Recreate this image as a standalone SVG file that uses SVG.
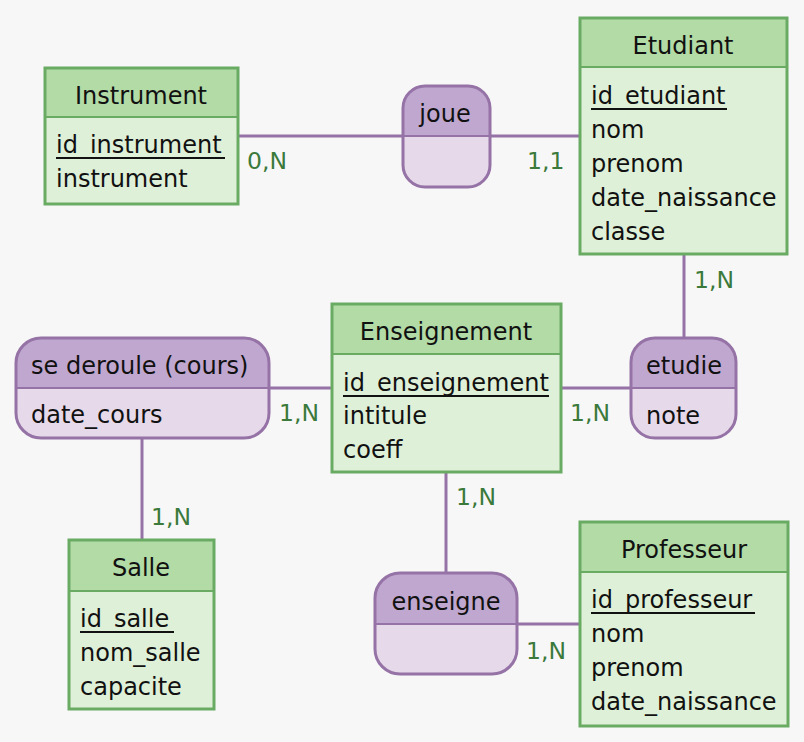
<svg xmlns="http://www.w3.org/2000/svg" width="804" height="742" viewBox="0 0 804 742">
<style>
text{font-family:"DejaVu Sans","Verdana",sans-serif;font-size:24px;fill:#111}
.h{text-anchor:middle}
.card{font-size:23.5px;fill:#3b7a3b}
.eb{fill:#dff0d8}
.eh{fill:#b2dba6}
.es{fill:none;stroke:#6aab64;stroke-width:3}
.rb{fill:#e6d9e9}
.rh{fill:#c0a7cf}
.rs{fill:none;stroke:#9673a6;stroke-width:3}
.ed{stroke:#6aab64;stroke-width:2}
.rd{stroke:#9673a6;stroke-width:2}
.ul{stroke:#111;stroke-width:1.8}
.ln{stroke:#9673a6;stroke-width:3;fill:none}
</style>
<rect width="804" height="742" fill="#f7f7f7"/>
<g id="connectors">
<line class="ln" x1="238" y1="136" x2="403" y2="136"/>
<line class="ln" x1="490" y1="136" x2="580" y2="136"/>
<line class="ln" x1="684" y1="254" x2="684" y2="338"/>
<line class="ln" x1="561" y1="388" x2="631" y2="388"/>
<line class="ln" x1="269" y1="388" x2="332" y2="388"/>
<line class="ln" x1="142" y1="438" x2="142" y2="540"/>
<line class="ln" x1="446" y1="472" x2="446" y2="573"/>
<line class="ln" x1="517" y1="624" x2="580" y2="624"/>
<text class="card" x="247" y="169">0,N</text>
<text class="card" x="527" y="169">1,1</text>
<text class="card" x="694" y="288">1,N</text>
<text class="card" x="570" y="421">1,N</text>
<text class="card" x="279" y="421">1,N</text>
<text class="card" x="151" y="525">1,N</text>
<text class="card" x="456" y="505">1,N</text>
<text class="card" x="526" y="659">1,N</text>
</g>
<g id="Instrument">
<rect class="eb" x="45" y="68" width="193" height="136"/>
<rect class="eh" x="45" y="68" width="193" height="49"/>
<line class="ed" x1="45" y1="117" x2="238" y2="117"/>
<rect class="es" x="45" y="68" width="193" height="136"/>
<text class="h" x="141" y="104">Instrument</text>
<text x="56" y="153">id_instrument</text>
<line class="ul" x1="56" y1="158" x2="225" y2="158"/>
<text x="56" y="187">instrument</text>
</g>
<g id="Etudiant">
<rect class="eb" x="580" y="18" width="207" height="236"/>
<rect class="eh" x="580" y="18" width="207" height="49"/>
<line class="ed" x1="580" y1="67" x2="787" y2="67"/>
<rect class="es" x="580" y="18" width="207" height="236"/>
<text class="h" x="683" y="54">Etudiant</text>
<text x="591" y="104">id_etudiant</text>
<line class="ul" x1="591" y1="109" x2="727" y2="109"/>
<text x="591" y="138">nom</text>
<text x="591" y="172">prenom</text>
<text x="591" y="206">date_naissance</text>
<text x="591" y="240">classe</text>
</g>
<g id="joue">
<rect class="rb" x="403" y="86" width="87" height="101" rx="22"/>
<path class="rh" d="M403,136 V108 a22,22 0 0 1 22,-22 H468 a22,22 0 0 1 22,22 V136 Z"/>
<line class="rd" x1="403" y1="136" x2="490" y2="136"/>
<rect class="rs" x="403" y="86" width="87" height="101" rx="22"/>
<text class="h" x="445" y="122">joue</text>
</g>
<g id="Enseignement">
<rect class="eb" x="332" y="304" width="229" height="168"/>
<rect class="eh" x="332" y="304" width="229" height="50"/>
<line class="ed" x1="332" y1="354" x2="561" y2="354"/>
<rect class="es" x="332" y="304" width="229" height="168"/>
<text class="h" x="446" y="340">Enseignement</text>
<text x="343" y="391">id_enseignement</text>
<line class="ul" x1="343" y1="396" x2="549" y2="396"/>
<text x="343" y="424">intitule</text>
<text x="343" y="458">coeff</text>
</g>
<g id="etudie">
<rect class="rb" x="631" y="338" width="105" height="100" rx="24"/>
<path class="rh" d="M631,388 V362 a24,24 0 0 1 24,-24 H712 a24,24 0 0 1 24,24 V388 Z"/>
<line class="rd" x1="631" y1="388" x2="736" y2="388"/>
<rect class="rs" x="631" y="338" width="105" height="100" rx="24"/>
<text class="h" x="684" y="374">etudie</text>
<text x="646" y="424">note</text>
</g>
<g id="se_deroule">
<rect class="rb" x="16" y="338" width="253" height="100" rx="25"/>
<path class="rh" d="M16,388 V363 a25,25 0 0 1 25,-25 H244 a25,25 0 0 1 25,25 V388 Z"/>
<line class="rd" x1="16" y1="388" x2="269" y2="388"/>
<rect class="rs" x="16" y="338" width="253" height="100" rx="25"/>
<text x="31" y="374">se deroule (cours)</text>
<text x="31" y="423">date_cours</text>
</g>
<g id="Salle">
<rect class="eb" x="69" y="540" width="145" height="169"/>
<rect class="eh" x="69" y="540" width="145" height="51"/>
<line class="ed" x1="69" y1="591" x2="214" y2="591"/>
<rect class="es" x="69" y="540" width="145" height="169"/>
<text class="h" x="141" y="576">Salle</text>
<text x="80" y="627">id_salle</text>
<line class="ul" x1="80" y1="632" x2="174" y2="632"/>
<text x="80" y="661">nom_salle</text>
<text x="80" y="695">capacite</text>
</g>
<g id="enseigne">
<rect class="rb" x="375" y="573" width="142" height="101" rx="25"/>
<path class="rh" d="M375,624 V598 a25,25 0 0 1 25,-25 H492 a25,25 0 0 1 25,25 V624 Z"/>
<line class="rd" x1="375" y1="624" x2="517" y2="624"/>
<rect class="rs" x="375" y="573" width="142" height="101" rx="25"/>
<text class="h" x="446" y="610">enseigne</text>
</g>
<g id="Professeur">
<rect class="eb" x="580" y="522" width="208" height="204"/>
<rect class="eh" x="580" y="522" width="208" height="50"/>
<line class="ed" x1="580" y1="572" x2="788" y2="572"/>
<rect class="es" x="580" y="522" width="208" height="204"/>
<text class="h" x="684" y="558">Professeur</text>
<text x="591" y="608">id_professeur</text>
<line class="ul" x1="591" y1="613" x2="755" y2="613"/>
<text x="591" y="642">nom</text>
<text x="591" y="676">prenom</text>
<text x="591" y="710">date_naissance</text>
</g>
</svg>
